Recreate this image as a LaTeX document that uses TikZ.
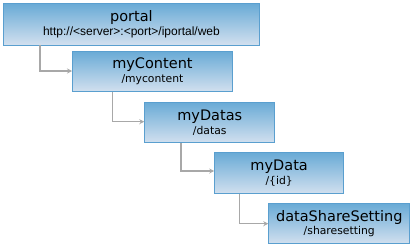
\documentclass[tikz,border=0pt]{standalone}
\usepackage{fontspec}
\setmainfont{DejaVu Sans}
\newfontfamily\arialfont{Liberation Sans}
\usetikzlibrary{arrows.meta}
\definecolor{boxtop}{HTML}{6AABD6}
\definecolor{boxbot}{HTML}{D2E0EF}
\definecolor{boxline}{HTML}{5A9FCF}
\definecolor{conn}{HTML}{A8A8A8}
\tikzset{
  box/.style={draw=boxline, line width=0.9pt, top color=boxtop, bottom color=boxbot,
    anchor=north west, inner sep=0pt, align=center, text=black},
  link/.style={draw=conn, line width=1.2pt, -{Stealth[length=5pt,width=5pt]}}
}
\newcommand{\ttlfont}{\fontsize{14.5}{15}\selectfont}
\newcommand{\subfont}{\fontsize{10.8}{12}\selectfont}
\begin{document}
\begin{tikzpicture}[x=1pt,y=1pt]
\path[fill=white] (0,0) rectangle (411,-246);
\useasboundingbox (0,0) rectangle (411,-246);
\node[box, minimum width=256pt, minimum height=41pt] (portal) at (3,-3.5)
  {{\ttlfont portal}\\[1.5pt]{\arialfont\fontsize{12}{13}\selectfont http://<server>:<port>/iportal/web}};
\node[box, minimum width=160pt, minimum height=40pt] (content) at (72,-51)
  {{\ttlfont myContent}\\[1.5pt]{\subfont /mycontent}};
\node[box, minimum width=130pt, minimum height=40.5pt] (datas) at (144.3,-101.8)
  {{\ttlfont myDatas}\\[1.5pt]{\subfont /datas}};
\node[box, minimum width=129pt, minimum height=41pt] (data) at (214.2,-152.3)
  {{\ttlfont myData}\\[1.5pt]{\subfont /\{id\}}};
\node[box, minimum width=141pt, minimum height=40pt] (share) at (268.3,-203.3)
  {{\ttlfont dataShareSetting}\\[1.5pt]{\subfont /sharesetting}};
\draw[link] (portal.south west) ++(37,0) |- (content.west |- 0,-71);
\draw[link] (content.south west) ++(40.7,0) |- (datas.west |- 0,-121.7);
\draw[link] (datas.south west) ++(36.7,0) |- (data.west |- 0,-171);
\draw[link] (data.south west) ++(25.1,0) |- (share.west |- 0,-223.7);
\end{tikzpicture}
\end{document}
